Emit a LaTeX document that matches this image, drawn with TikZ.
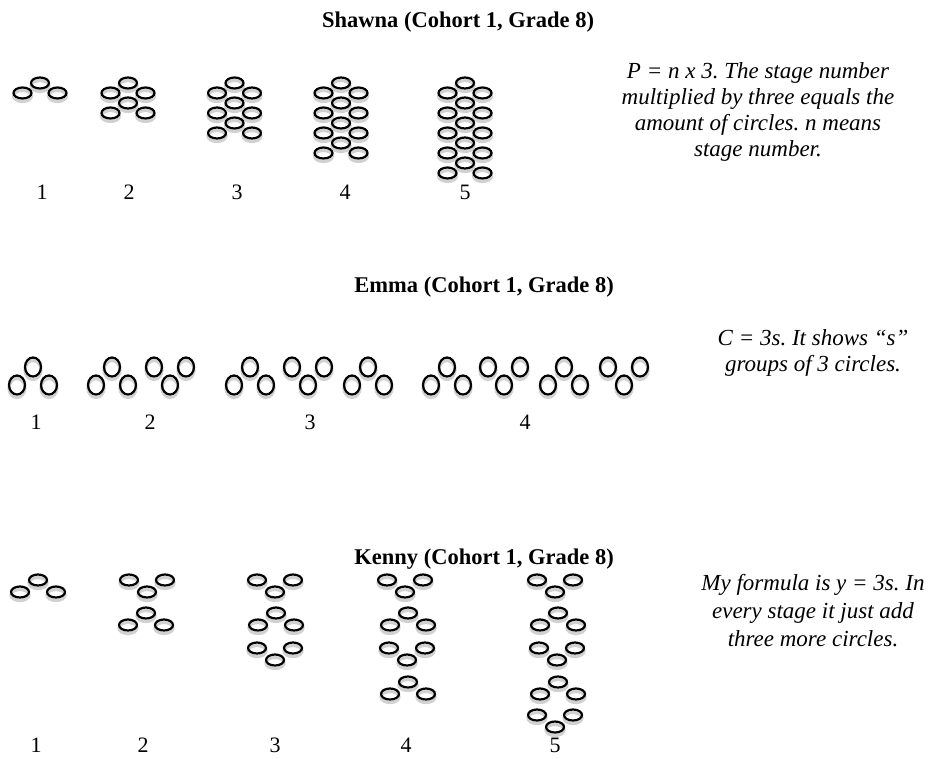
\documentclass[tikz,border=0pt]{standalone}
\usepackage{fontspec}
\setmainfont{Liberation Serif}
\frenchspacing
\begin{document}
\begin{tikzpicture}[x=1pt,y=-1pt,
  shadowring/.style={draw=black!18,line width=3.2pt},
  ringline/.style={draw=black,line width=2.2pt},
  ov/.pic={\draw[shadowring] (0,3) ellipse (9pt and 5.5pt);
           \draw[ringline] (0,0) ellipse (9pt and 5.5pt);},
  cir/.pic={\draw[shadowring] (0,3) ellipse (8pt and 9.5pt);
            \draw[ringline] (0,0) ellipse (8pt and 9.5pt);},
  ttl/.style={font=\fontsize{22.5}{26}\selectfont\bfseries,inner sep=0pt},
  num/.style={font=\fontsize{22}{26}\selectfont,inner sep=0pt},
  desc/.style={font=\fontsize{23}{26}\selectfont\itshape\frenchspacing,inner sep=0pt,align=center,anchor=north}
]
\useasboundingbox (0,0) rectangle (933,758);
\fill[white] (0,0) rectangle (933,758);

% ---------- Shawna ----------
\node[ttl,anchor=base west] (t1) at (322,27) {Shawna (Cohort 1, Grade 8)};
\foreach \n/\cx in {1/40,2/128,3/234.5,4/341,5/465}{
  \pic at (\cx,83) {ov};
  \foreach \k in {1,...,\n}{
    \pic at ({\cx-17.5},{83+10*(2*\k-1)}) {ov};
    \pic at ({\cx+17.5},{83+10*(2*\k-1)}) {ov};
  }
  \ifnum\n>1
  \foreach \k in {2,...,\n}{
    \pic at (\cx,{83+20*(\k-1)}) {ov};
  }
  \fi
}
\node[num] (s1) at (42,192) {1};
\node[num] (s2) at (129,192) {2};
\node[num] (s3) at (237,192) {3};
\node[num] (s4) at (345,192) {4};
\node[num] (s5) at (465,192) {5};
\node[desc] (d1) at (758,62) {P = n x 3. The stage number\\multiplied by three equals the\\amount of circles. n means\\stage number.};

% ---------- Emma ----------
\node[ttl,anchor=base east] (t2) at (614,292) {Emma (Cohort 1, Grade 8)};
\foreach \cx in {33,112,250,368,447,564}{
  \pic at ({\cx-16},385) {cir};
  \pic at (\cx,367) {cir};
  \pic at ({\cx+16},385) {cir};
}
\foreach \cx in {170,308,504,624}{
  \pic at ({\cx-16},367) {cir};
  \pic at (\cx,385) {cir};
  \pic at ({\cx+16},367) {cir};
}
\node[num] (e1) at (36,422) {1};
\node[num] (e2) at (150,422) {2};
\node[num] (e3) at (310,422) {3};
\node[num] (e4) at (525,422) {4};
\node[desc] (d2) at (813,329) {C = 3s. It shows “s”\\groups of 3 circles.};

% ---------- Kenny ----------
\node[ttl,anchor=base east] (t3) at (614,564) {Kenny (Cohort 1, Grade 8)};
% V groups: (cx, y0)
\foreach \cx/\y in {147/580,275/580,275/648,405/580,407/648,555/580,557/648,555/715}{
  \pic at ({\cx-18},\y) {ov};
  \pic at (\cx,{\y+12}) {ov};
  \pic at ({\cx+18},\y) {ov};
}
% inverted-V groups: (cx, top y)
\foreach \cx/\y in {38/580,146/613,276/613,408/613,408/682,558/613,558/682}{
  \pic at ({\cx-18},{\y+12}) {ov};
  \pic at (\cx,\y) {ov};
  \pic at ({\cx+18},{\y+12}) {ov};
}
\node[num] (k1) at (36,745) {1};
\node[num] (k2) at (143,745) {2};
\node[num] (k3) at (275,745) {3};
\node[num] (k4) at (406,745) {4};
\node[num] (k5) at (555,745) {5};
\node[desc,font=\fontsize{23}{28}\selectfont\itshape\frenchspacing] (d3) at (813,574) {My formula is y = 3s. In\\every stage it just add\\three more circles.};
\end{tikzpicture}
\end{document}
